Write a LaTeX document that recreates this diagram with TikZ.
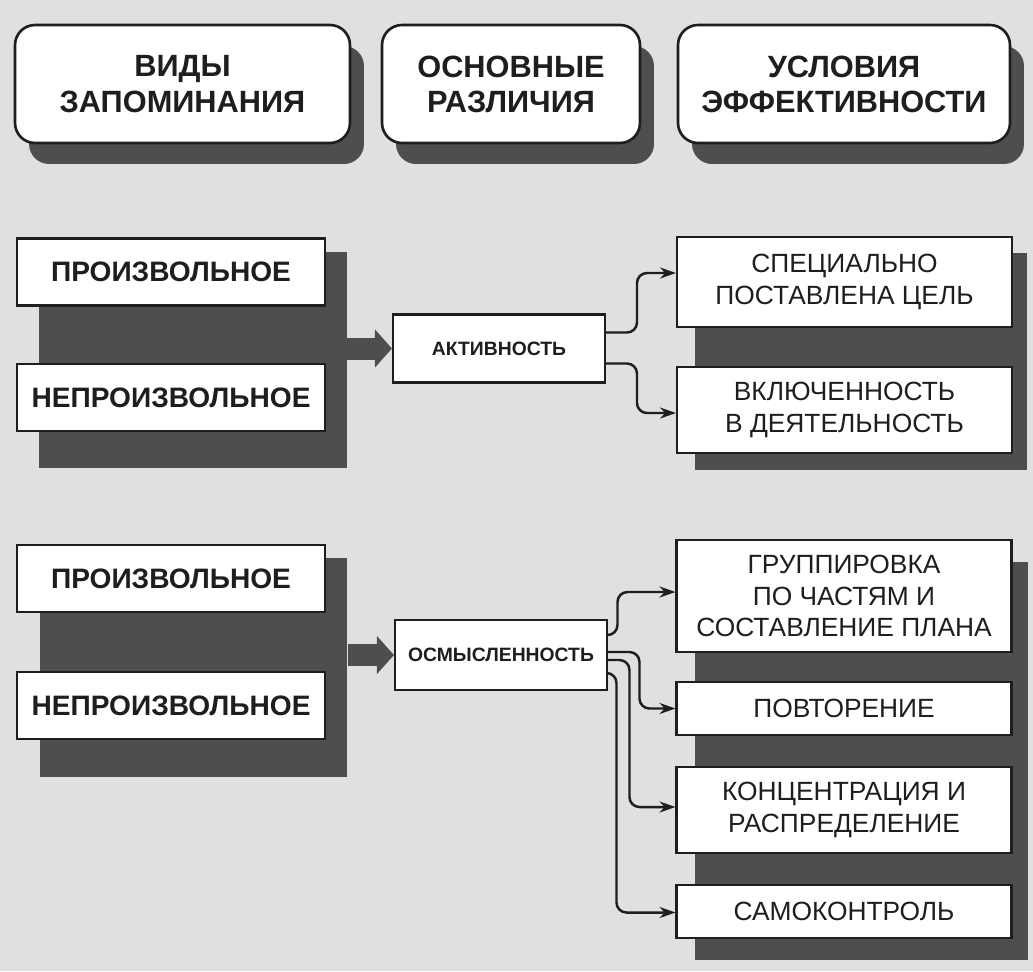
\documentclass[tikz,border=0pt]{standalone}
\usepackage{fontspec}
\setmainfont{Liberation Sans}
\usetikzlibrary{arrows.meta,calc,shadows}
\definecolor{pagebg}{RGB}{224,224,224}
\definecolor{shadowgray}{RGB}{78,78,78}
\definecolor{inkgray}{RGB}{30,30,30}
\begin{document}
\begin{tikzpicture}[x=0.02cm, y=-0.02cm,
    every node/.style={text=inkgray, align=center, inner sep=0pt},
    headbox/.style={draw=inkgray, line width=1.5pt, fill=white, rounded corners=0.4cm,
        minimum height=2.36cm, font=\fontsize{17.5}{20}\selectfont\bfseries,
        drop shadow={shadow xshift=0.28cm, shadow yshift=-0.42cm, fill=shadowgray, opacity=1}},
    typebox/.style={draw=inkgray, line width=1.2pt, fill=white, minimum width=6.16cm,
        minimum height=1.34cm, font=\fontsize{16}{19}\selectfont\bfseries},
    midbox/.style={draw=inkgray, line width=1.2pt, fill=white, minimum width=4.24cm,
        minimum height=1.36cm, font=\fontsize{11}{13}\selectfont\bfseries},
    condbox/.style={draw=inkgray, line width=1.2pt, fill=white, minimum width=6.7cm,
        font=\fontsize{15}{18}\selectfont},
    darkblock/.style={fill=shadowgray, draw=none},
    bigarrow/.style={draw=shadowgray, line width=0.44cm, -{Triangle[length=0.34cm, width=0.74cm]}},
    thinarrow/.style={draw=inkgray, line width=1.4pt, rounded corners=0.2cm,
        -{Stealth[length=0.32cm, width=0.22cm]}}]
\fill[pagebg] (0,0) rectangle (1033,971);

\node[headbox, minimum width=6.7cm] (h1) at (182.5,84) {ВИДЫ\\ЗАПОМИНАНИЯ};
\node[headbox, minimum width=5.16cm] (h2) at (511,84) {ОСНОВНЫЕ\\РАЗЛИЧИЯ};
\node[headbox, minimum width=6.64cm] (h3) at (844,84) {УСЛОВИЯ\\ЭФФЕКТИВНОСТИ};

\node[darkblock, minimum width=6.16cm, minimum height=4.32cm] (b1) at (193,360) {};
\node[typebox] (p1) at (171,272) {ПРОИЗВОЛЬНОЕ};
\node[typebox] (n1) at (171,397.5) {НЕПРОИЗВОЛЬНОЕ};
\node[midbox] (akt) at (499,348.5) {АКТИВНОСТЬ};

\node[darkblock, minimum width=6.64cm, minimum height=4.34cm] (s1) at (861,361.5) {};
\node[condbox, minimum height=1.8cm] (spec) at (844.5,282) {СПЕЦИАЛЬНО\\ПОСТАВЛЕНА ЦЕЛЬ};
\node[condbox, minimum height=1.72cm] (vkl) at (844.5,410) {ВКЛЮЧЕННОСТЬ\\В ДЕЯТЕЛЬНОСТЬ};

\draw[bigarrow] (b1.east |- akt.west) -- (akt.west);
\draw[thinarrow] ($(akt.east)+(0,-16)$) -| ($(spec.west)+(-39,-9)$) -- ($(spec.west)+(0,-9)$);
\draw[thinarrow] ($(akt.east)+(0,15)$) -| ($(vkl.west)+(-39,3)$) -- ($(vkl.west)+(0,3)$);

\node[darkblock, minimum width=6.16cm, minimum height=4.38cm] (b2) at (193.5,667.5) {};
\node[typebox] (p2) at (171,578.5) {ПРОИЗВОЛЬНОЕ};
\node[typebox] (n2) at (171,705.5) {НЕПРОИЗВОЛЬНОЕ};
\node[midbox, minimum height=1.4cm] (osm) at (501,655) {ОСМЫСЛЕННОСТЬ};

\node[darkblock, minimum width=6.66cm, minimum height=7.96cm] (s2) at (861.5,761) {};
\node[condbox, minimum height=2.24cm] (grp) at (844,596) {ГРУППИРОВКА\\ПО ЧАСТЯМ И\\СОСТАВЛЕНИЕ ПЛАНА};
\node[condbox, minimum height=1.06cm] (povt) at (844,708.5) {ПОВТОРЕНИЕ};
\node[condbox, minimum height=1.72cm] (konc) at (844,810) {КОНЦЕНТРАЦИЯ И\\РАСПРЕДЕЛЕНИЕ};
\node[condbox, minimum height=1.06cm] (samo) at (844,911.5) {САМОКОНТРОЛЬ};

\draw[bigarrow] (b2.east |- osm.west) -- (osm.west);
\draw[thinarrow] ($(osm.east)+(0,-20)$) -| ($(grp.west)+(-58,-4)$) -- ($(grp.west)+(0,-4)$);
\draw[thinarrow] ($(osm.east)+(0,-3)$) -| ($(povt.west)+(-36,0)$) -- (povt.west);
\draw[thinarrow] ($(osm.east)+(0,5)$) -| ($(konc.west)+(-46,-3)$) -- ($(konc.west)+(0,-3)$);
\draw[thinarrow] ($(osm.east)+(0,18)$) -| ($(samo.west)+(-59,1)$) -- ($(samo.west)+(0,1)$);
\end{tikzpicture}
\end{document}
